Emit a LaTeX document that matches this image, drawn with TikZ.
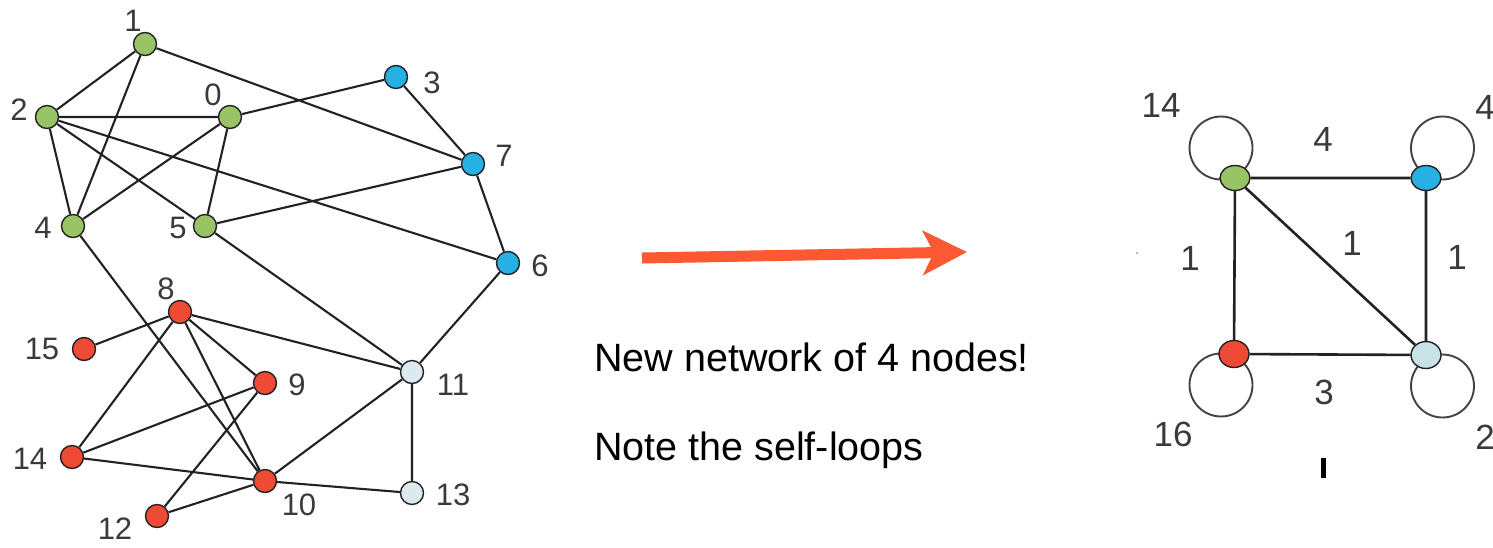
\documentclass[tikz,border=0pt]{standalone}
\usepackage{fontspec}
\setmainfont{Liberation Sans}
\usetikzlibrary{arrows.meta,shapes.geometric,calc}
\definecolor{ngreen}{RGB}{152,196,102}
\definecolor{nblue}{RGB}{38,176,228}
\definecolor{nred}{RGB}{238,74,54}
\definecolor{npale}{RGB}{218,234,238}
\definecolor{npale2}{RGB}{200,226,232}
\definecolor{arrowc}{RGB}{252,88,50}
\definecolor{edgec}{RGB}{34,34,34}
\definecolor{labc}{RGB}{58,58,58}
\tikzset{
  vtx/.style={circle,draw=edgec,line width=1.4pt,minimum size=23pt,inner sep=0pt},
  bigvtx/.style={ellipse,draw=edgec,line width=1.4pt,minimum width=30pt,minimum height=27pt,inner sep=0pt},
  lab/.style={text=labc,inner sep=0pt,font=\fontsize{31}{31}\selectfont},
  rlab/.style={text=labc,inner sep=0pt,font=\fontsize{35}{35}\selectfont},
  edg/.style={draw=edgec,line width=2.1pt},
  redg/.style={draw=edgec,line width=2.6pt},
  loopc/.style={draw=edgec!85,line width=1.9pt},
  caption/.style={inner sep=0pt,anchor=base west,font=\fontsize{39.5}{40}\selectfont}
}
\begin{document}
\begin{tikzpicture}[x=1pt,y=-1pt]
\useasboundingbox (0,0) rectangle (1493,547);
% left graph nodes
\node[vtx,fill=ngreen] (n0) at (230,117) {};
\node[vtx,fill=ngreen] (n1) at (145,44) {};
\node[vtx,fill=ngreen] (n2) at (47,117) {};
\node[vtx,fill=nblue] (n3) at (396,77) {};
\node[vtx,fill=ngreen] (n4) at (73,226) {};
\node[vtx,fill=ngreen] (n5) at (205,226) {};
\node[vtx,fill=nblue] (n6) at (508,263) {};
\node[vtx,fill=nblue] (n7) at (473,164) {};
\node[vtx,fill=nred] (n8) at (180,312) {};
\node[vtx,fill=nred] (n9) at (265,383) {};
\node[vtx,fill=nred] (n10) at (265,481) {};
\node[vtx,fill=npale] (n11) at (412,372) {};
\node[vtx,fill=nred] (n12) at (157,516) {};
\node[vtx,fill=npale] (n13) at (412,493) {};
\node[vtx,fill=nred] (n14) at (72,457) {};
\node[vtx,fill=nred] (n15) at (84,349) {};
% left edges
\path[edg] (n1)--(n2) (n1)--(n4) (n1)--(n7)
  (n2)--(n0) (n2)--(n4) (n2)--(n5) (n2)--(n6)
  (n0)--(n3) (n0)--(n4) (n0)--(n5)
  (n3)--(n7) (n7)--(n5) (n7)--(n6)
  (n4)--(n10) (n5)--(n11) (n6)--(n11)
  (n8)--(n15) (n8)--(n14) (n8)--(n9) (n8)--(n10) (n8)--(n11)
  (n9)--(n14) (n9)--(n12) (n14)--(n10)
  (n10)--(n12) (n10)--(n11) (n10)--(n13) (n11)--(n13);
% left labels
\node[lab] (l0) at (213,95) {0};
\node[lab] (l1) at (133,21) {1};
\node[lab] (l2) at (19,110) {2};
\node[lab] (l3) at (432,83) {3};
\node[lab] (l4) at (43,228) {4};
\node[lab] (l5) at (178,228) {5};
\node[lab] (l6) at (540,266) {6};
\node[lab] (l7) at (504,156) {7};
\node[lab] (l8) at (166,289) {8};
\node[lab] (l9) at (297,385) {9};
\node[lab] (l10) at (299,505) {10};
\node[lab] (l11) at (453,385) {11};
\node[lab] (l12) at (115,529) {12};
\node[lab] (l13) at (453,495) {13};
\node[lab] (l14) at (30,459) {14};
\node[lab] (l15) at (42,349) {15};
% arrow
\coordinate (as) at (642,258);
\coordinate (ae) at (967,252);
\draw[arrowc,line width=11pt,-{Stealth[length=44pt,width=44pt,inset=11pt]}] (as) -- (ae);
% captions
\node[caption] (t1) at (594,371.5) {New network of 4 nodes!};
\node[caption] (t2) at (594,460) {Note the self-loops};
% right graph: loops first
\coordinate (gc) at (1235,178);
\coordinate (bc) at (1426,178);
\coordinate (rc) at (1234,354);
\coordinate (pc) at (1426,355);
\draw[loopc] ($(gc)+(-14,-30)$) circle (31.5);
\draw[loopc] ($(bc)+(16.5,-30)$) circle (31.5);
\draw[loopc] ($(rc)+(-13,31)$) circle (31.5);
\draw[loopc] ($(pc)+(16.5,31)$) circle (31.5);
\node[bigvtx,fill=ngreen,minimum height=25pt] (g) at (gc) {};
\node[bigvtx,fill=nblue,minimum height=25pt] (b) at (bc) {};
\node[bigvtx,fill=nred] (r) at (rc) {};
\node[bigvtx,fill=npale2] (p) at (pc) {};
\path[redg] (g)--(b) (g)--(r) (g)--(p) (b)--(p) (r)--(p);
% right labels
\node[rlab] (rl14) at (1161,105) {14};
\node[rlab] (rl4a) at (1485,107) {4};
\node[rlab] (rlgb) at (1323,139) {4};
\node[rlab] (rlgr) at (1190,258) {1};
\node[rlab] (rlgp) at (1352,243) {1};
\node[rlab] (rlbp) at (1457,257) {1};
\node[rlab] (rlrp) at (1324,392) {3};
\node[rlab] (rl16) at (1173,434) {16};
\node[rlab] (rl2) at (1485,437) {2};
% small marks
\fill[gray!70] (1137,253) circle (1.2);
\fill[black] (1321,458) rectangle (1326,478);
\end{tikzpicture}
\end{document}
